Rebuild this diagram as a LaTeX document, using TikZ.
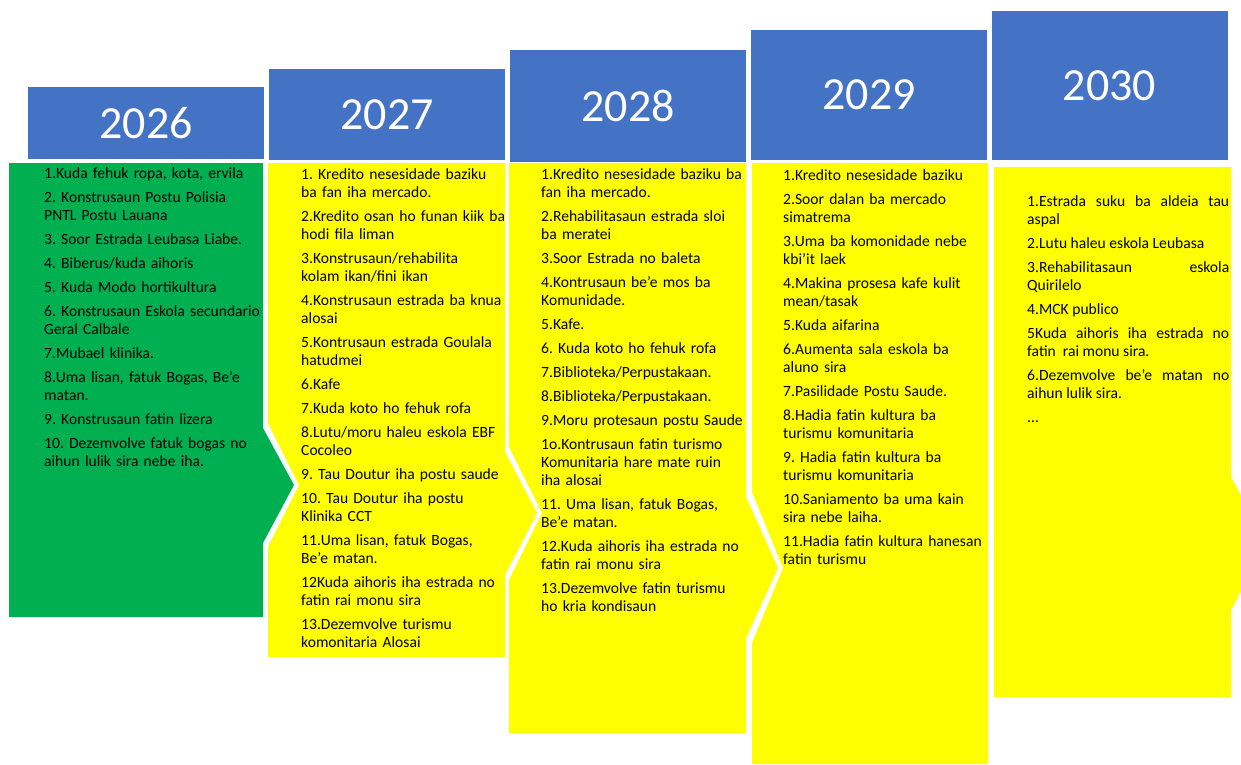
\documentclass[tikz,border=0pt]{standalone}
\usepackage{fontspec}
\setmainfont{Carlito}
\frenchspacing
\definecolor{yearblue}{HTML}{4472C4}
\definecolor{stepgreen}{HTML}{00B050}
\definecolor{stepyellow}{HTML}{FFFF00}
\newcommand{\yearfont}{\fontsize{46}{54}\selectfont}
\newcommand{\listfont}{\fontsize{15.6}{18}\selectfont}
\tikzset{
  yearbox/.style={fill=yearblue, text=white, font=\yearfont, minimum width=236pt, inner sep=0pt},
  itemlist/.style={anchor=north west, inner sep=0pt, text width=235pt, font=\listfont,
    execute at begin node={\raggedright\parindent=0pt}},
}
\begin{document}
\begin{tikzpicture}[x=1pt,y=-1pt]
\useasboundingbox (0,0) rectangle (1241,764);
\clip (0,0) rectangle (1241,764);

% year headers
\node[yearbox, minimum height=72pt]  (y2026) at (146,123)    {2026};
\node[yearbox, minimum height=91pt]  (y2027) at (387,114.5)  {2027};
\node[yearbox, minimum height=112pt] (y2028) at (628,106)    {2028};
\node[yearbox, minimum height=130pt] (y2029) at (869,95)     {2029};
\node[yearbox, minimum height=149pt] (y2030) at (1109.5,85.5) {2030};

% step blocks
\fill[stepgreen] (9,163) -- (263,163) -- (263,428) -- (294,485) -- (263,543)
  -- (263,617) -- (9,617) -- cycle;
\fill[stepyellow] (268,163) -- (505,163) -- (505,452) -- (537,513) -- (505,575)
  -- (505,657) -- (268,657) -- (268,547) -- (299,485) -- (268,423) -- cycle;
\fill[stepyellow] (509,163) -- (746,163) -- (746,497) -- (778,568) -- (746,638)
  -- (746,733) -- (509,733) -- (509,580) -- (542,513) -- (509,447) -- cycle;
\fill[stepyellow] (752,163) -- (988,163) -- (988,764) -- (752,764) -- (752,643)
  -- (783,568) -- (752,492) -- cycle;
\fill[stepyellow] (994,167) -- (1231,167) -- (1231,477) -- (1267,543) -- (1231,610)
  -- (1231,697) -- (994,697) -- cycle;

% lists
\node[itemlist] (l2026) at (44,167) {%
1.Kuda fehuk ropa, kota, ervila\\[6pt]
2. Konstrusaun Postu Polisia\\PNTL Postu Lauana\\[6pt]
3. Soor Estrada Leubasa Liabe.\\[6pt]
4. Biberus/kuda aihoris\\[6pt]
5. Kuda Modo hortikultura\\[6pt]
6. Konstrusaun Eskola secundario\\Geral Calbale\\[6pt]
7.Mubael klinika.\\[6pt]
8.Uma lisan, fatuk Bogas, Be’e\\matan.\\[6pt]
9. Konstrusaun fatin lizera\\[6pt]
10. Dezemvolve fatuk bogas no\\aihun lulik sira nebe iha.};

\node[itemlist] (l2027) at (301,168) {%
1. Kredito nesesidade baziku\\ba fan iha mercado.\\[6pt]
2.Kredito osan ho funan kiik ba\\hodi fila liman\\[6pt]
3.Konstrusaun/rehabilita\\kolam ikan/fini ikan\\[6pt]
4.Konstrusaun estrada ba knua\\alosai\\[6pt]
5.Kontrusaun estrada Goulala\\hatudmei\\[6pt]
6.Kafe\\[6pt]
7.Kuda koto ho fehuk rofa\\[6pt]
8.Lutu/moru haleu eskola EBF\\Cocoleo\\[6pt]
9. Tau Doutur iha postu saude\\[6pt]
10. Tau Doutur iha postu\\Klinika CCT\\[6pt]
11.Uma lisan, fatuk Bogas,\\Be’e matan.\\[6pt]
12Kuda aihoris iha estrada no\\fatin rai monu sira\\[6pt]
13.Dezemvolve turismu\\komonitaria Alosai};

\node[itemlist] (l2028) at (541,168) {%
1.Kredito nesesidade baziku ba\\fan iha mercado.\\[6pt]
2.Rehabilitasaun estrada sloi\\ba meratei\\[6pt]
3.Soor Estrada no baleta\\[6pt]
4.Kontrusaun be’e mos ba\\Komunidade.\\[6pt]
5.Kafe.\\[6pt]
6. Kuda koto ho fehuk rofa\\[6pt]
7.Biblioteka/Perpustakaan.\\[6pt]
8.Biblioteka/Perpustakaan.\\[6pt]
9.Moru protesaun postu Saude\\[6pt]
1o.Kontrusaun fatin turismo\\Komunitaria hare mate ruin\\iha alosai\\[6pt]
11. Uma lisan, fatuk Bogas,\\Be’e matan.\\[6pt]
12.Kuda aihoris iha estrada no\\fatin rai monu sira\\[6pt]
13.Dezemvolve fatin turismu\\ho kria kondisaun};

\node[itemlist] (l2029) at (783,169) {%
1.Kredito nesesidade baziku\\[6pt]
2.Soor dalan ba mercado\\simatrema\\[6pt]
3.Uma ba komonidade nebe\\kbi’it laek\\[6pt]
4.Makina prosesa kafe kulit\\mean/tasak\\[6pt]
5.Kuda aifarina\\[6pt]
6.Aumenta sala eskola ba\\aluno sira\\[6pt]
7.Pasilidade Postu Saude.\\[6pt]
8.Hadia fatin kultura ba\\turismu komunitaria\\[6pt]
9. Hadia fatin kultura ba\\turismu komunitaria\\[6pt]
10.Saniamento ba uma kain\\sira nebe laiha.\\[6pt]
11.Hadia fatin kultura hanesan\\fatin turismu};

% last column is justified
\node[anchor=north west, inner sep=0pt, text width=202pt, font=\listfont] (l2030) at (1027,195) {%
\parindent=0pt \parskip=6pt \leftskip=0pt \rightskip=0pt \spaceskip=0pt \xspaceskip=0pt
\parfillskip=0pt plus 1fil \hyphenpenalty=10000
1.Estrada suku ba aldeia tau\linebreak aspal\par
2.Lutu haleu eskola Leubasa\par
3.Rehabilitasaun eskola\linebreak Quirilelo\par
4.MCK publico\par
5Kuda aihoris iha estrada no\linebreak fatin\ \ rai monu sira.\par
6.Dezemvolve be’e matan no\linebreak aihun lulik sira.\par
...};
\end{tikzpicture}
\end{document}
